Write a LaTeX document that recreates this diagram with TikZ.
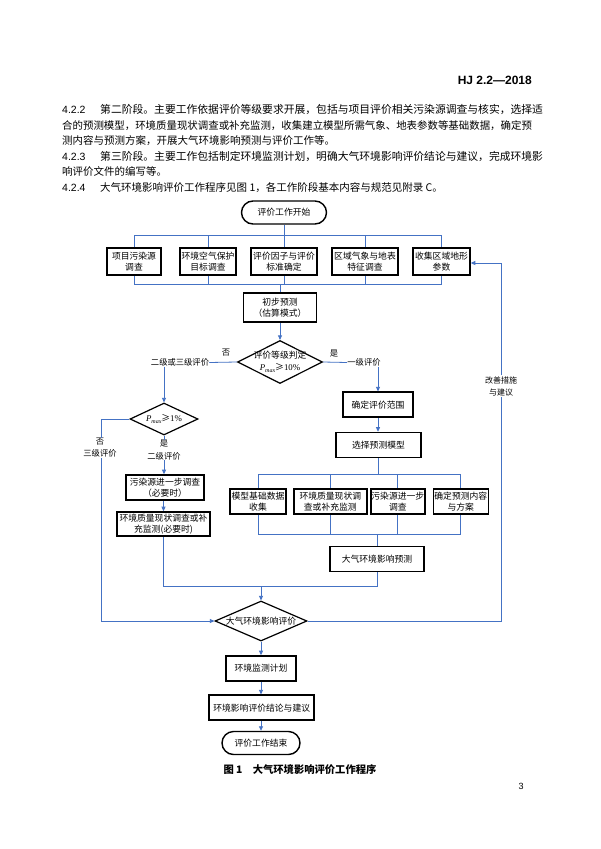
\documentclass[tikz,border=0pt]{standalone}
\usepackage{fontspec}
\setmainfont{Liberation Serif}
\newfontfamily\cjk{Noto Sans CJK SC}
\newfontfamily\lsans{Liberation Sans}
\newfontfamily\tnr{Liberation Serif}
\usetikzlibrary{shapes.geometric,shapes.misc,arrows.meta}
\definecolor{conn}{RGB}{68,114,196}
\tikzset{
  box/.style={draw, line width=1.6pt, inner sep=0pt, align=center,
    font=\cjk\fontsize{8.8}{11.5}\selectfont, minimum height=25pt},
  term/.style={draw, rounded rectangle, line width=1.4pt, inner sep=0pt,
    font=\cjk\fontsize{8.8}{11}\selectfont, minimum height=23pt},
  dia/.style={draw, diamond, line width=1.2pt, inner sep=0pt},
  lbl/.style={font=\cjk\fontsize{8.3}{11}\selectfont, inner sep=0pt, align=center},
  ln/.style={draw=conn, line width=0.8pt},
  arr/.style={ln, -{Triangle[length=4.5pt,width=4pt]}},
  para/.style={anchor=west, inner sep=0pt},
}
\newcommand{\pmax}{{\tnr\itshape P}\raisebox{-1.5pt}{\tnr\itshape\fontsize{6}{6}\selectfont max}}
\begin{document}
\begin{tikzpicture}[x=1pt,y=-1pt]
\useasboundingbox (0,0) rectangle (600,849);
\fill[white] (0,0) rectangle (600,849);

% header
\node[anchor=east, inner sep=0pt, font=\lsans\bfseries\fontsize{12}{12}\selectfont] (hdr) at (532,80) {HJ 2.2—2018};

% paragraphs
\node[para, font=\lsans\fontsize{10.5}{10.5}\selectfont] (n1) at (62,110) {4.2.2};
\node[para, font=\cjk\fontsize{10.8}{10.8}\selectfont] (p1) at (100,110) {第二阶段。主要工作依据评价等级要求开展，包括与项目评价相关污染源调查与核实，选择适};
\node[para, font=\cjk\fontsize{10.44}{10.44}\selectfont] (p2) at (62,125.5) {合的预测模型，环境质量现状调查或补充监测，收集建立模型所需气象、地表参数等基础数据，确定预};
\node[para, font=\cjk\fontsize{10.5}{10.5}\selectfont] (p3) at (62,141) {测内容与预测方案，开展大气环境影响预测与评价工作等。};
\node[para, font=\lsans\fontsize{10.5}{10.5}\selectfont] (n4) at (62,156.5) {4.2.3};
\node[para, font=\cjk\fontsize{10.8}{10.8}\selectfont] (p4) at (100,156.5) {第三阶段。主要工作包括制定环境监测计划，明确大气环境影响评价结论与建议，完成环境影};
\node[para, font=\cjk\fontsize{10.5}{10.5}\selectfont] (p5) at (62,172) {响评价文件的编写等。};
\node[para, font=\lsans\fontsize{10.5}{10.5}\selectfont] (n6) at (62,187.5) {4.2.4};
\node[para, font=\cjk\fontsize{10.5}{10.5}\selectfont] (p6) at (100,187.5) {大气环境影响评价工作程序见图 1，各工作阶段基本内容与规范见附录 C。};

% flowchart nodes
\node[term, minimum width=85pt] (start) at (284,212.5) {评价工作开始};
\node[box, minimum width=54pt, minimum height=27pt] (b1) at (134,261.5) {项目污染源\\调查};
\node[box, minimum width=56pt, minimum height=27pt] (b2) at (208,261.5) {环境空气保护\\目标调查};
\node[box, minimum width=66pt, minimum height=27pt] (b3) at (284,261.5) {评价因子与评价\\标准确定};
\node[box, minimum width=66pt, minimum height=27pt] (b4) at (365,261.5) {区域气象与地表\\特征调查};
\node[box, minimum width=57pt, minimum height=27pt] (b5) at (441.5,261.5) {收集区域地形\\参数};
\node[box, minimum width=73pt, minimum height=29pt] (pre) at (280,307.5) {初步预测\\（估算模式）};

\node[dia, minimum width=85pt, minimum height=43pt] (d1) at (280,362) {};
\node[lbl, font=\cjk\fontsize{8.8}{12}\selectfont] (d1t) at (d1) {评价等级判定\\\pmax≥{\tnr 10\%}};
\node[lbl] (no1) at (226,353) {否};
\node[lbl] (yes1) at (334,354) {是};
\node[lbl] (l23) at (180,362.5) {二级或三级评价};
\node[lbl] (l1) at (364,362.5) {一级评价};

\node[dia, minimum width=68pt, minimum height=32pt] (d2) at (164,419) {};
\node[lbl, font=\cjk\fontsize{8.8}{12}\selectfont] (d2t) at (d2) {\pmax≥{\tnr 1\%}};
\node[lbl, font=\cjk\fontsize{8.3}{12}\selectfont] (l3) at (100,448) {否\\三级评价};
\node[lbl, font=\cjk\fontsize{8.3}{13}\selectfont] (l2) at (164,450) {是\\二级评价};

\node[box, minimum width=78pt] (s1) at (165,487.5) {污染源进一步调查\\（必要时）};
\node[box, minimum width=93pt, minimum height=24pt] (s2) at (163.5,524) {环境质量现状调查或补\\充监测(必要时)};

\node[box, minimum width=70pt] (r1) at (378,404.7) {确定评价范围};
\node[box, minimum width=85pt] (r2) at (378.5,445) {选择预测模型};
\node[box, minimum width=56pt] (m1) at (258,501.5) {模型基础数据\\收集};
\node[box, minimum width=73pt] (m2) at (330.3,501.5) {环境质量现状调\\查或补充监测};
\node[box, minimum width=54pt] (m3) at (397.8,501.5) {污染源进一步\\调查};
\node[box, minimum width=55pt] (m4) at (460.8,501.5) {确定预测内容\\与方案};
\node[box, minimum width=94pt] (pr) at (377,559) {大气环境影响预测};

\node[dia, minimum width=92pt, minimum height=40pt] (d3) at (261,621) {};
\node[lbl, font=\cjk\fontsize{8.8}{12}\selectfont] (d3t) at (d3) {大气环境影响评价};
\node[box, minimum width=70pt] (e1) at (261,668.5) {环境监测计划};
\node[box, minimum width=105pt] (e2) at (261.7,707.7) {环境影响评价结论与建议};
\node[term, minimum width=78pt] (stop) at (261,743) {评价工作结束};

\node[lbl, fill=white, inner sep=1pt, font=\cjk\fontsize{8}{12}\selectfont] (imp) at (501,386) {改善措施\\与建议};

% coordinates
\coordinate (bt) at (284,235);
\coordinate (bb) at (284,284);
\coordinate (mt) at (378,474);
\coordinate (mb) at (378,534);
\coordinate (jn) at (261,586);
\coordinate (lc) at (101,419);
\coordinate (rc1) at (501,621);
\coordinate (rc2) at (501,263);

% connectors
\draw[ln] (start.south) -- (bt);
\draw[ln] (b1.north |- bt) -- (b5.north |- bt);
\foreach \b in {b1,b2,b3,b4,b5}{
  \draw[ln] (\b.north |- bt) -- (\b.north);
  \draw[ln] (\b.south) -- (\b.south |- bb);
}
\draw[ln] (b1.south |- bb) -- (b5.south |- bb);
\draw[ln] (pre.north |- bb) -- (pre.north);
\draw[arr] (pre.south) -- (d1.north);
\draw[ln] (d1.west) -- (l23.east);
\draw[ln] (d1.east) -- (l1.west);
\draw[arr] (l23.south -| d2.north) -- (d2.north);
\draw[arr] (l1.south -| r1.north) -- (r1.north);
\draw[arr] (r1.south) -- (r1.south |- r2.north);
\draw[ln] (r2.south) -- (r2.south |- mt);
\draw[ln] (m1.north |- mt) -- (m4.north |- mt);
\foreach \m in {m1,m2,m3,m4}{
  \draw[ln] (\m.north |- mt) -- (\m.north);
  \draw[ln] (\m.south) -- (\m.south |- mb);
}
\draw[ln] (m1.south |- mb) -- (m4.south |- mb);
\draw[ln] (pr.north |- mb) -- (pr.north);

\draw[ln] (d2.west) -- (lc) -- (l3.north -| lc);
\draw[arr] (l3.south -| lc) |- (d3.west);
\draw[ln] (d2.south) -- (l2.north);
\draw[arr] (l2.south) -- (l2.south |- s1.north);
\draw[arr] (s1.south -| s2.north) -- (s2.north);
\draw[ln] (s2.south) -- (s2.south |- jn) -- (pr.south |- jn) -- (pr.south);
\draw[arr] (jn) -- (d3.north);
\draw[arr] (d3.south) -- (e1.north);
\draw[arr] (e1.south) -- (e1.south |- e2.north);
\draw[arr] (e2.south -| stop.north) -- (stop.north);
\draw[ln] (d3.east) -- (rc1) -- (imp.south -| rc1);
\draw[arr] (imp.north -| rc2) -- (rc2) -- (b5.east |- rc2);

% caption and page number
\node[inner sep=0pt, font=\cjk\bfseries\fontsize{10.3}{10.3}\selectfont] (cap) at (300,770) {图 1\hspace{1em}大气环境影响评价工作程序};
\node[inner sep=0pt, font=\lsans\fontsize{9}{9}\selectfont] (pg) at (521,786) {3};
\end{tikzpicture}
\end{document}
